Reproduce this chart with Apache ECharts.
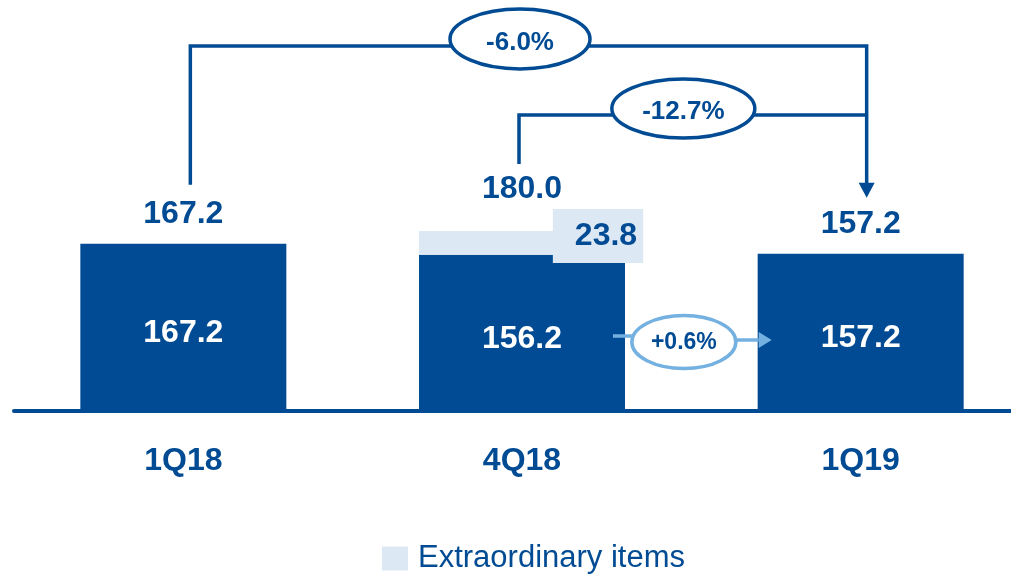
<!DOCTYPE html>
<html><head><meta charset="utf-8">
<script src="https://cdn.jsdelivr.net/npm/echarts@6/dist/echarts.min.js"></script>
<style>html,body{margin:0;padding:0;background:#fff}#main{width:1011px;height:579px}</style>
</head><body><div id="main"></div>
<script>
const categories = ['1Q18', '4Q18', '1Q19'];
const coreValues = [167.2, 156.2, 157.2];
const extraordinaryValues = [null, 23.8, null];
const totalValues = [167.2, 180.0, 157.2];
const bracketChanges = [{ from: 0, to: 2, label: '-6.0%' }, { from: 1, to: 2, label: '-12.7%' }];
const qoqChange = { from: 1, to: 2, label: '+0.6%' };
const legendLabel = 'Extraordinary items';

const DARK = '#004B93', LIGHT = '#DDE8F5', SKY = '#74B0E0';
const FONT = "'Liberation Sans', Arial, sans-serif";

const chart = echarts.init(document.getElementById('main'));
const option = {
  animation: false,
  backgroundColor: '#fff',
  grid: { left: 14, right: -19, top: 11, bottom: 168, outerBoundsMode: 'none', containLabel: false },
  legend: {
    data: [legendLabel], left: 382, top: 543, padding: 0, icon: 'rect', itemWidth: 26, itemHeight: 24,
    selectedMode: false,
    textStyle: { color: DARK, fontSize: 31, fontFamily: FONT, padding: [0, 0, 0, 5] }
  },
  xAxis: {
    type: 'category', data: categories,
    axisLine: { lineStyle: { color: DARK, width: 4 } },
    axisTick: { show: false },
    axisLabel: { margin: 34, color: DARK, fontSize: 32, fontWeight: 'bold', fontFamily: FONT }
  },
  yAxis: { type: 'value', min: 0, max: 400, show: false, splitLine: { show: false } },
  series: [
    {
      name: 'Core', type: 'bar', stack: 'q', data: coreValues, barWidth: 206,
      itemStyle: { color: DARK },
      label: {
        show: true, position: 'inside', offset: [0, 6], color: '#fff', fontSize: 32,
        fontWeight: 'bold', fontFamily: FONT, formatter: p => p.value.toFixed(1)
      }
    },
    {
      name: legendLabel, type: 'bar', stack: 'q', data: extraordinaryValues, barWidth: 206,
      itemStyle: { color: LIGHT },
      label: {
        show: true, position: 'inside', offset: [76, -7], color: DARK, fontSize: 32,
        fontWeight: 'bold', fontFamily: FONT, backgroundColor: LIGHT, padding: [13, 6, 9, 22],
        formatter: p => p.value.toFixed(1)
      }
    },
    {
      name: 'Total', type: 'bar', stack: 'q', barWidth: 206, silent: true,
      itemStyle: { color: 'rgba(0,0,0,0)' },
      data: totalValues.map((v, i) => ({ value: 0, label: { distance: i === 1 ? 26 : 14 } })),
      label: {
        show: true, position: 'top', color: DARK, fontSize: 32, fontWeight: 'bold',
        fontFamily: FONT, formatter: p => totalValues[p.dataIndex].toFixed(1)
      }
    }
  ]
};
chart.setOption(option);

const cx = i => chart.convertToPixel({ xAxisIndex: 0 }, i);
const cy = v => chart.convertToPixel({ yAxisIndex: 0 }, v);
const g = [];
const line = (pts, color, w) => g.push({ type: 'polyline', z: 100, shape: { points: pts }, style: { stroke: color, lineWidth: w, fill: null } });
const tri = (pts, color) => g.push({ type: 'polygon', z: 100, shape: { points: pts }, style: { fill: color } });
const oval = (x, y, rx, ry, color) => g.push({ type: 'ellipse', z: 101, shape: { cx: x, cy: y, rx: rx, ry: ry }, style: { fill: '#fff', stroke: color, lineWidth: 3.5 } });
const txt = (x, y, t, size) => g.push({ type: 'text', z: 102, x: x, y: y, style: { text: t, fill: DARK, font: 'bold ' + size + 'px ' + FONT, align: 'center', verticalAlign: 'middle' } });

// long bracket (1Q18 -> 1Q19)
const b1 = bracketChanges[0], b2 = bracketChanges[1];
const xL1 = cx(b1.from) + 7, xR = cx(b1.to) + 6;
const yTop1 = 46, yTop2 = 115;
const tipY = cy(totalValues[b1.to]) - 56;
line([[xL1, cy(totalValues[b1.from]) - 59], [xL1, yTop1], [xR, yTop1], [xR, tipY - 14]], DARK, 3.5);
tri([[xR - 8, tipY - 15], [xR + 8, tipY - 15], [xR, tipY]], DARK);
const e1x = (xL1 + xR) / 2 - 8.5;
oval(e1x, 39, 70, 30, DARK);
txt(e1x, 43, b1.label, 26);
// short bracket (4Q18 -> 1Q19)
const xL2 = cx(b2.from) - 3;
line([[xL2, cy(totalValues[b2.from]) - 67], [xL2, yTop2], [xR, yTop2]], DARK, 3.5);
const e2x = (xL2 + xR) / 2 - 9.5;
oval(e2x, 108.5, 71.5, 29.5, DARK);
txt(e2x, 112, b2.label, 26);
// q-o-q core change
const barRight = cx(qoqChange.from) + 103, barLeft = cx(qoqChange.to) - 103;
const e3x = (barRight + barLeft) / 2 - 7.5, e3y = cy(0) - 69;
line([[cx(qoqChange.from) + 91, e3y - 6], [e3x - 52, e3y - 6]], SKY, 3.5);
line([[e3x + 52, e3y - 2], [barLeft + 1, e3y - 2]], SKY, 3.5);
tri([[barLeft + 1, e3y - 10], [barLeft + 1, e3y + 6], [barLeft + 14, e3y - 2]], SKY);
oval(e3x, e3y, 52, 26.5, SKY);
txt(e3x, e3y + 1, qoqChange.label, 23);

chart.setOption({ graphic: { elements: g } });
</script>
</body></html>
